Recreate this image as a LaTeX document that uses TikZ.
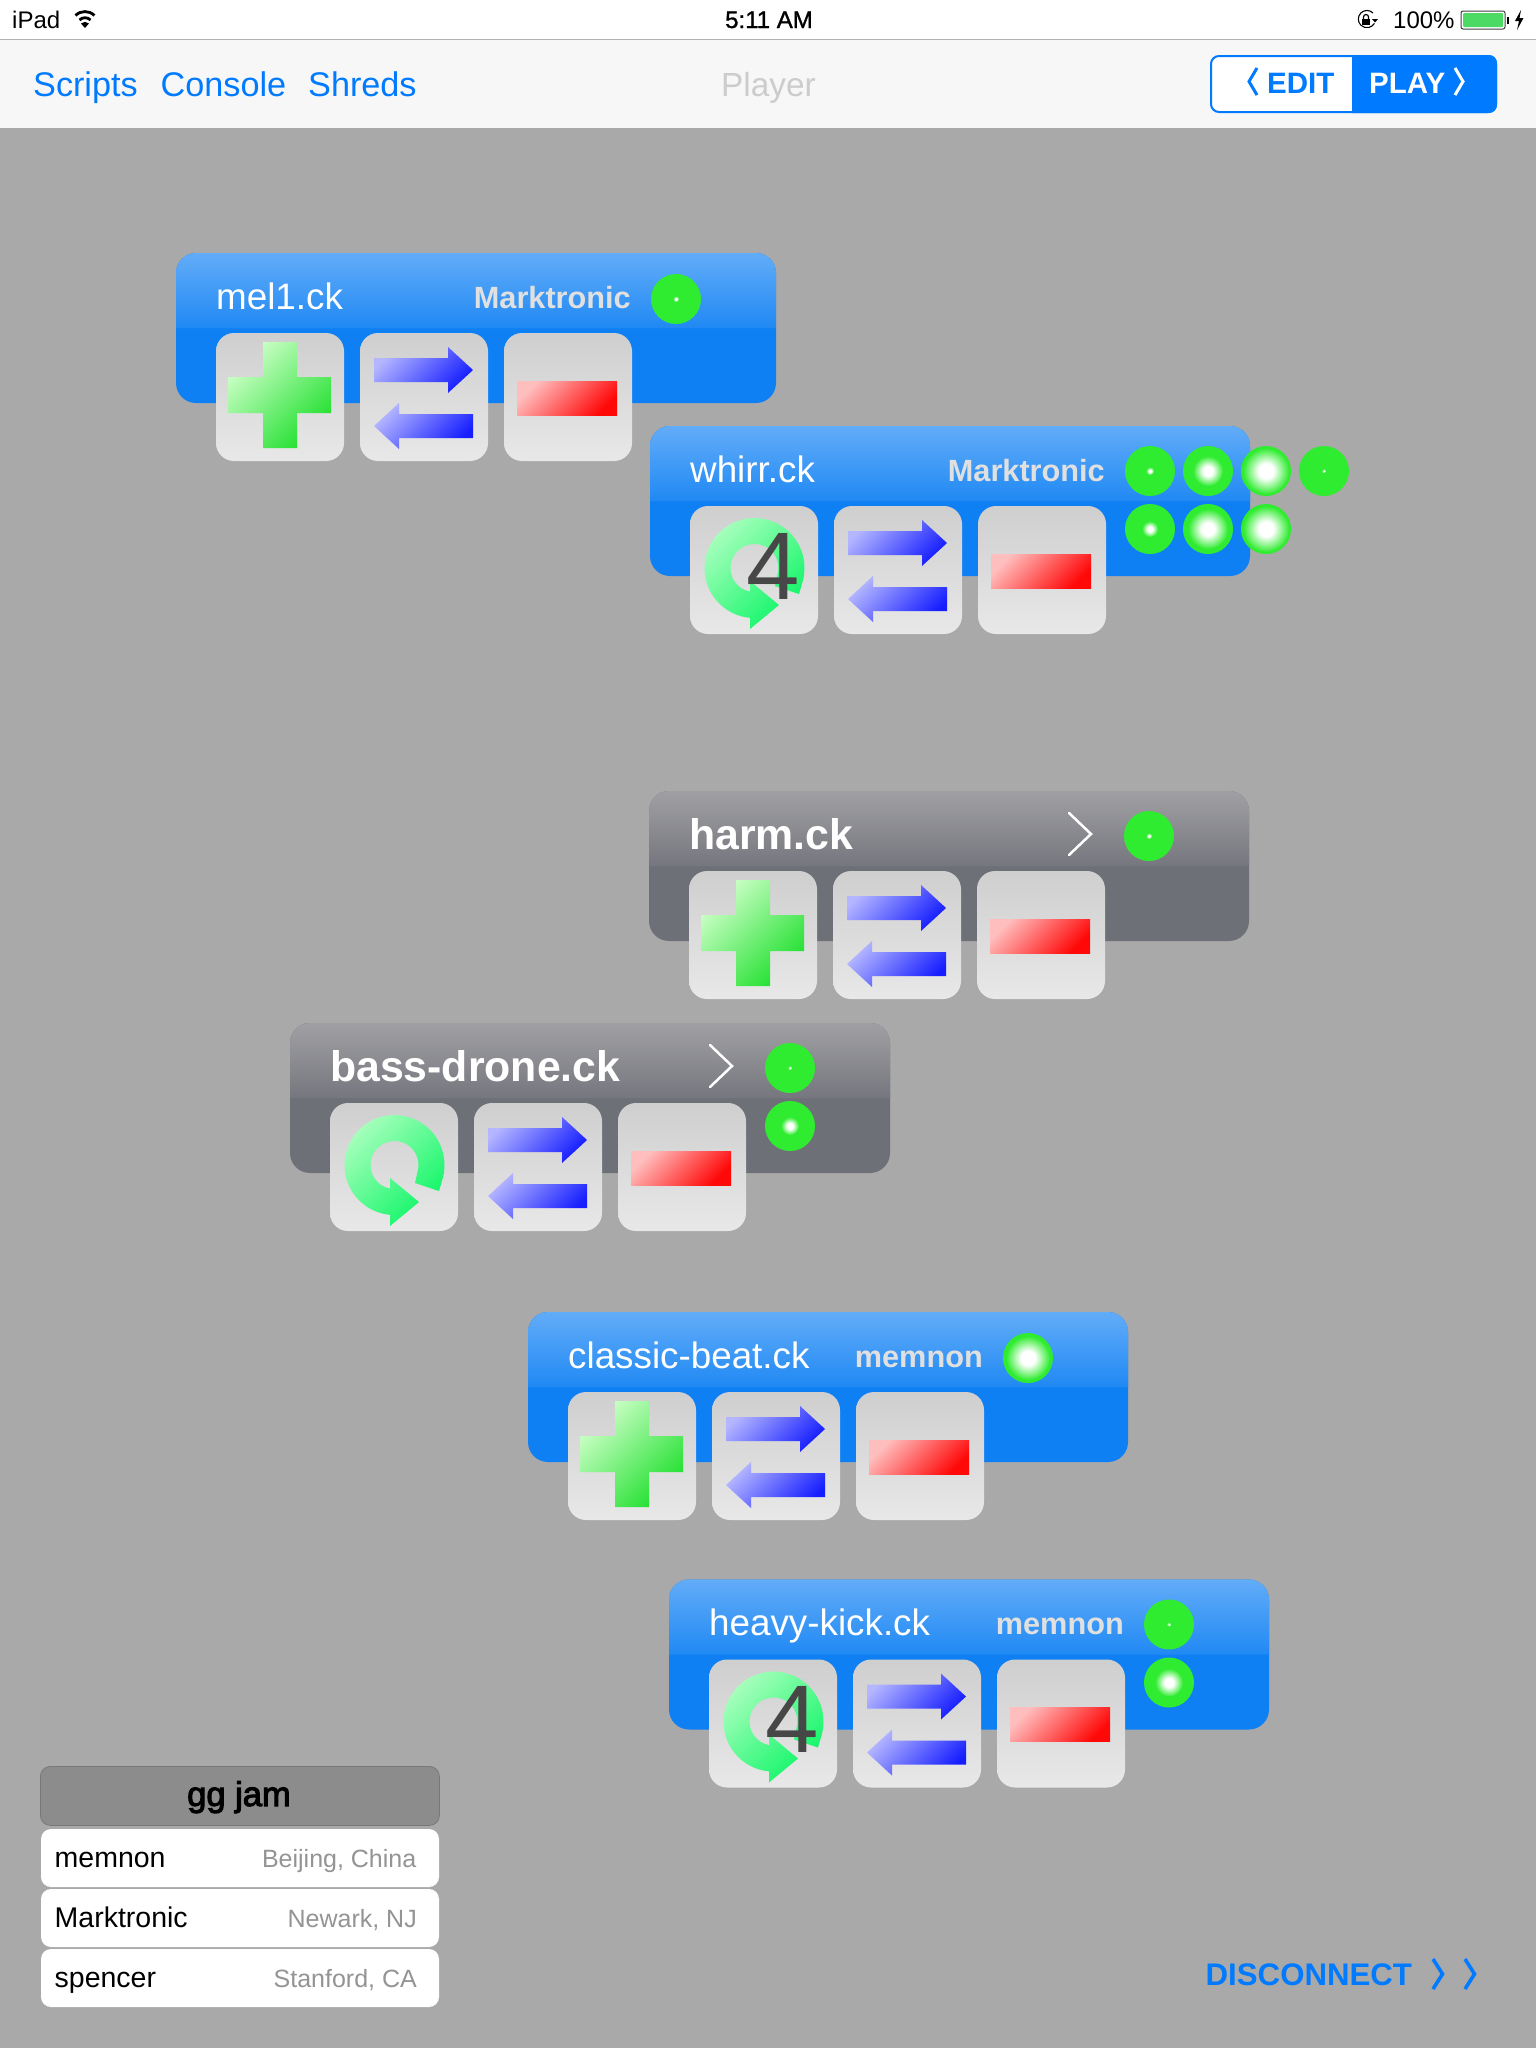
\documentclass[tikz,border=0pt]{standalone}
\usepackage{fontspec}
\setmainfont{Liberation Sans}
\newfontfamily\medfont[FakeBold=1.2]{Liberation Sans}
\newfontfamily\heavyfont[FakeBold=3]{Liberation Sans}
\usepackage{tikz}
\usetikzlibrary{positioning}

\definecolor{pagegray}{RGB}{169,169,169}
\definecolor{barwhite}{RGB}{247,247,247}
\definecolor{iosblue}{RGB}{0,122,255}
\definecolor{ledgreen}{RGB}{48,236,48}
\definecolor{battgreen}{RGB}{76,217,100}
\definecolor{bluetop}{RGB}{98,172,248}
\definecolor{bluemid}{RGB}{32,137,244}
\definecolor{bluebody}{RGB}{15,128,243}
\definecolor{greytop}{RGB}{160,160,164}
\definecolor{greymid}{RGB}{118,119,126}
\definecolor{greybody}{RGB}{110,112,120}
\definecolor{plustop}{RGB}{205,255,200}
\definecolor{plusbot}{RGB}{34,224,48}
\definecolor{looptop}{RGB}{170,255,190}
\definecolor{loopbot}{RGB}{10,245,100}
\definecolor{swaptop}{RGB}{180,182,255}
\definecolor{swapbot}{RGB}{22,30,255}
\definecolor{minustop}{RGB}{255,190,190}
\definecolor{minusbot}{RGB}{255,8,8}
\pgfdeclareradialshading{ledglow}{\pgfpointorigin}{color(0bp)=(white);color(8bp)=(white);color(25bp)=(ledgreen);color(50bp)=(ledgreen)}

\tikzset{
  btn/.style={rounded corners=18pt,minimum size=128pt,inner sep=0pt,outer sep=0pt,top color=black!19,bottom color=black!9},
  led/.style={circle,fill=ledgreen,minimum size=50pt,inner sep=0pt,outer sep=0pt},
  ckname/.style={anchor=base west,inner sep=0pt,text=white,font=\fontsize{36.8}{40}\selectfont},
  ckbold/.style={anchor=base west,inner sep=0pt,text=white,font=\bfseries\fontsize{42.8}{50}\selectfont},
  ckuser/.style={anchor=base east,inner sep=0pt,text=black!12,font=\bfseries\fontsize{30.7}{40}\selectfont},
  navtext/.style={anchor=base west,inner sep=0pt,text=iosblue,font=\fontsize{34.2}{40}\selectfont},
  stattext/.style={anchor=base west,inner sep=0pt,text=black,font=\fontsize{24}{28}\selectfont},
  rowbox/.style={anchor=north west,rounded corners=10pt,fill=white,minimum width=398pt,minimum height=58pt,inner sep=0pt,outer sep=0pt},
  rowname/.style={anchor=base west,inner sep=0pt,text=black,font=\fontsize{28.5}{32}\selectfont},
  rowplace/.style={anchor=base east,inner sep=0pt,text=black!42,font=\fontsize{25}{30}\selectfont},
  chev/.style={line width=3.6pt,iosblue,miter limit=10},
}

% panel body, then the lit top part
\newcommand{\ckpanel}[5]{
  \node[anchor=north west,rounded corners=20pt,fill=#5,minimum width=600pt,minimum height=150pt,inner sep=0pt,outer sep=0pt] (#1) at (#2) {};
  \path[rounded corners=20pt,top color=#3,bottom color=#4] (#1.north west) ++(0,75) -- (#1.north west) -- (#1.north east) -- ++(0,75);
}
% the three buttons of a panel, #2 draws the first icon
\newcommand{\ckbuttons}[2]{
  \node[btn,anchor=north west] (#1one) at ([shift={(40,80)}]#1.north west) {};
  \node[btn,right=16pt of #1one] (#1two) {};
  \node[btn,right=16pt of #1two] (#1three) {};
  #2{#1one}
  \swapicon{#1two}
  \minusicon{#1three}
}
\newcommand{\plusicon}[1]{
  \path[shift={(#1.north west)},top color=plustop,bottom color=plusbot,shading angle=45]
    (47,9) -- (81,9) -- (81,44) -- (115,44) -- (115,80) -- (81,80) -- (81,115) -- (47,115) -- (47,80) -- (12,80) -- (12,44) -- (47,44) -- cycle;
}
\newcommand{\swapicon}[1]{
  \path[shift={(#1.north west)},top color=swaptop,bottom color=swapbot,shading angle=45]
    (14,25) -- (88,25) -- (88,14) -- (113,37) -- (88,60) -- (88,49) -- (14,49) -- cycle;
  \path[shift={(#1.north west)},top color=swaptop,bottom color=swapbot,shading angle=45]
    (113,81) -- (39,81) -- (39,70) -- (14,93) -- (39,116) -- (39,105) -- (113,105) -- cycle;
}
\newcommand{\minusicon}[1]{
  \path[shift={(#1.north west)},top color=minustop,bottom color=minusbot,shading angle=45]
    (13,48) rectangle (113,82);
}
\newcommand{\loopicon}[1]{
  \path[shift={(#1.north west)},top color=looptop,bottom color=loopbot,shading angle=45]
    (109,88) -- (112.8,75) arc[start angle=15,end angle=-270,radius=50] -- (60,112) -- (60,123) -- (89,99) -- (60,75) -- (60,86) -- (64.5,86)
    arc[start angle=-270,end angle=8,radius=24] -- (85,80) -- cycle;
}
\newcommand{\loopfour}[1]{
  \loopicon{#1}
  \node[anchor=base west,inner sep=0pt,text=black!72,font=\fontsize{96}{100}\selectfont] (#1four) at ([shift={(56,93)}]#1.north west) {4};
}
\newcommand{\ledglow}[2]{
  \path[shading=ledglow] (#1.center) circle[radius=#2];
}

\begin{document}
\begin{tikzpicture}[x=1pt,y=-1pt]
  \useasboundingbox (0,0) rectangle (1536,2048);
  \fill[pagegray] (0,0) rectangle (1536,2048);

  %status bar
  \fill[white] (0,0) rectangle (1536,39);
  \fill[barwhite] (0,39) rectangle (1536,128);
  \draw[black!30,line width=1pt] (0,39) -- (1536,39);
  \node[stattext] (ipad) at (12,28) {iPad};
  \draw[black,line width=2.8pt] (75.5,15.5) arc[start angle=-135,end angle=-45,radius=13.4];
  \draw[black,line width=2.8pt] (79.5,20) arc[start angle=-135,end angle=-45,radius=7.8];
  \fill[black] (85,28) -- (81,23.5) arc[start angle=-135,end angle=-45,radius=5.6] -- cycle;
  \node[stattext,font=\medfont\fontsize{24}{28}\selectfont] (clock) at (725,28) {5:11 AM};
  \draw[black,line width=1.1pt] (1373,13) arc[start angle=-45,end angle=-330,radius=8.6];
  \fill[black] (1372,19) -- (1378,19) -- (1375,22.5) -- cycle;
  \fill[black] (1362,19) rectangle (1370,25);
  \draw[black,line width=1.2pt] (1363.5,19) -- (1363.5,17) arc[start angle=180,end angle=360,radius=2.5] -- (1368.5,19);
  \node[stattext] (percent) at (1393,28) {100\%};
  \draw[black!75,line width=1pt,rounded corners=2pt] (1461,11) rectangle (1505,29);
  \fill[battgreen,rounded corners=1pt] (1463,13) rectangle (1503,27);
  \fill[black] (1506.5,17) rectangle (1509,24);
  \fill[black] (1521,10) -- (1515,21) -- (1519,21) -- (1517,30) -- (1523.5,18) -- (1519.5,18) -- cycle;

  %nav bar
  \node[navtext] (scripts) at (33,96) {Scripts};
  \node[navtext] (console) at (160.5,96) {Console};
  \node[navtext] (shreds) at (308,96) {Shreds};
  \node[navtext,text=black!20,font=\fontsize{33.4}{40}\selectfont] (player) at (721,96) {Player};
  \draw[iosblue,line width=2pt,rounded corners=8pt,fill=white] (1211,56) rectangle (1496,112);
  \fill[iosblue,rounded corners=8pt] (1352,55) -- (1497,55) -- (1497,113) -- (1352,113);
  \fill[iosblue] (1352,55) rectangle (1365,113);
  \node[navtext,font=\bfseries\fontsize{29.5}{34}\selectfont] (edit) at (1267,93) {EDIT};
  \node[navtext,text=white,font=\bfseries\fontsize{29.5}{34}\selectfont] (play) at (1369,93) {PLAY};
  \draw[iosblue,line width=3pt] (1257,68) -- (1249,81.5) -- (1257,95);
  \draw[white,line width=3pt] (1455,68) -- (1463,81.5) -- (1455,95);

  %mel1
  \ckpanel{mel}{176,253}{bluetop}{bluemid}{bluebody}
  \ckbuttons{mel}{\plusicon}
  \node[ckname] (melname) at ([shift={(40,56)}]mel.north west) {mel1.ck};
  \node[ckuser] (meluser) at ([shift={(455,55)}]mel.north west) {Marktronic};
  \node[led] (melled) at ([shift={(500,46)}]mel.north west) {};
  \ledglow{melled}{3}

  %whirr
  \ckpanel{whirr}{650,426}{bluetop}{bluemid}{bluebody}
  \ckbuttons{whirr}{\loopfour}
  \node[ckname] (whirrname) at ([shift={(40,56)}]whirr.north west) {whirr.ck};
  \node[ckuser] (whirruser) at ([shift={(455,55)}]whirr.north west) {Marktronic};
  \node[led] (whirrledA) at ([shift={(500,45)}]whirr.north west) {};
  \node[led,right=8pt of whirrledA] (whirrledB) {};
  \node[led,right=8pt of whirrledB] (whirrledC) {};
  \node[led,right=8pt of whirrledC] (whirrledD) {};
  \node[led,below=8pt of whirrledA] (whirrledE) {};
  \node[led,right=8pt of whirrledE] (whirrledF) {};
  \node[led,right=8pt of whirrledF] (whirrledG) {};
  \ledglow{whirrledA}{4}
  \ledglow{whirrledB}{15}
  \ledglow{whirrledC}{23}
  \ledglow{whirrledD}{2}
  \ledglow{whirrledE}{8}
  \ledglow{whirrledF}{20}
  \ledglow{whirrledG}{23}

  %harm
  \ckpanel{harm}{649,791}{greytop}{greymid}{greybody}
  \ckbuttons{harm}{\plusicon}
  \node[ckbold] (harmname) at ([shift={(40,58)}]harm.north west) {harm.ck};
  \draw[white,line width=2.5pt,line cap=round] ([shift={(420,22)}]harm.north west) -- ([shift={(442,43)}]harm.north west) -- ([shift={(420,64)}]harm.north west);
  \node[led] (harmled) at ([shift={(500,45)}]harm.north west) {};
  \ledglow{harmled}{3}

  %bass-drone
  \ckpanel{bass}{290,1023}{greytop}{greymid}{greybody}
  \ckbuttons{bass}{\loopicon}
  \node[ckbold] (bassname) at ([shift={(40,58)}]bass.north west) {bass-drone.ck};
  \draw[white,line width=2.5pt,line cap=round] ([shift={(420,22)}]bass.north west) -- ([shift={(442,43)}]bass.north west) -- ([shift={(420,64)}]bass.north west);
  \node[led] (bassledA) at ([shift={(500,45)}]bass.north west) {};
  \node[led,below=8pt of bassledA] (bassledB) {};
  \ledglow{bassledA}{2}
  \ledglow{bassledB}{9}

  %classic-beat
  \ckpanel{beat}{528,1312}{bluetop}{bluemid}{bluebody}
  \ckbuttons{beat}{\plusicon}
  \node[ckname] (beatname) at ([shift={(40,56)}]beat.north west) {classic-beat.ck};
  \node[ckuser] (beatuser) at ([shift={(455,55)}]beat.north west) {memnon};
  \node[led] (beatled) at ([shift={(500,46)}]beat.north west) {};
  \ledglow{beatled}{22}

  %heavy-kick
  \ckpanel{kick}{669,1579.5}{bluetop}{bluemid}{bluebody}
  \ckbuttons{kick}{\loopfour}
  \node[ckname] (kickname) at ([shift={(40,56)}]kick.north west) {heavy-kick.ck};
  \node[ckuser] (kickuser) at ([shift={(455,55)}]kick.north west) {memnon};
  \node[led] (kickledA) at ([shift={(500,45)}]kick.north west) {};
  \node[led,below=8pt of kickledA] (kickledB) {};
  \ledglow{kickledA}{2}
  \ledglow{kickledB}{14}

  %jam list
  \node[anchor=north west,rounded corners=10pt,fill=black!45,draw=black!53,line width=0.8pt,minimum width=399pt,minimum height=59pt,inner sep=0pt] (jam) at (40,1766) {};
  \node[anchor=base,inner sep=0pt,text=black,font=\heavyfont\fontsize{34.5}{38}\selectfont] (jamname) at (239,1806) {gg jam};
  \node[rowbox] (rowA) at (41,1829) {};
  \node[rowbox] (rowB) at (41,1889) {};
  \node[rowbox] (rowC) at (41,1949) {};
  \node[rowname] (nameA) at (54.5,1867) {memnon};
  \node[rowname] (nameB) at (54.5,1927) {Marktronic};
  \node[rowname] (nameC) at (54.5,1987) {spencer};
  \node[rowplace] (placeA) at (416.5,1867) {Beijing, China};
  \node[rowplace] (placeB) at (417,1927) {Newark, NJ};
  \node[rowplace] (placeC) at (417,1987) {Stanford, CA};

  %disconnect
  \node[anchor=base west,inner sep=0pt,text=iosblue,font=\bfseries\fontsize{31.2}{36}\selectfont] (disconnect) at (1205.5,1985.5) {DISCONNECT};
  \draw[chev] (1433,1959) -- (1442.5,1974) -- (1433,1989);
  \draw[chev] (1465,1959) -- (1474.5,1974) -- (1465,1989);
\end{tikzpicture}
\end{document}
